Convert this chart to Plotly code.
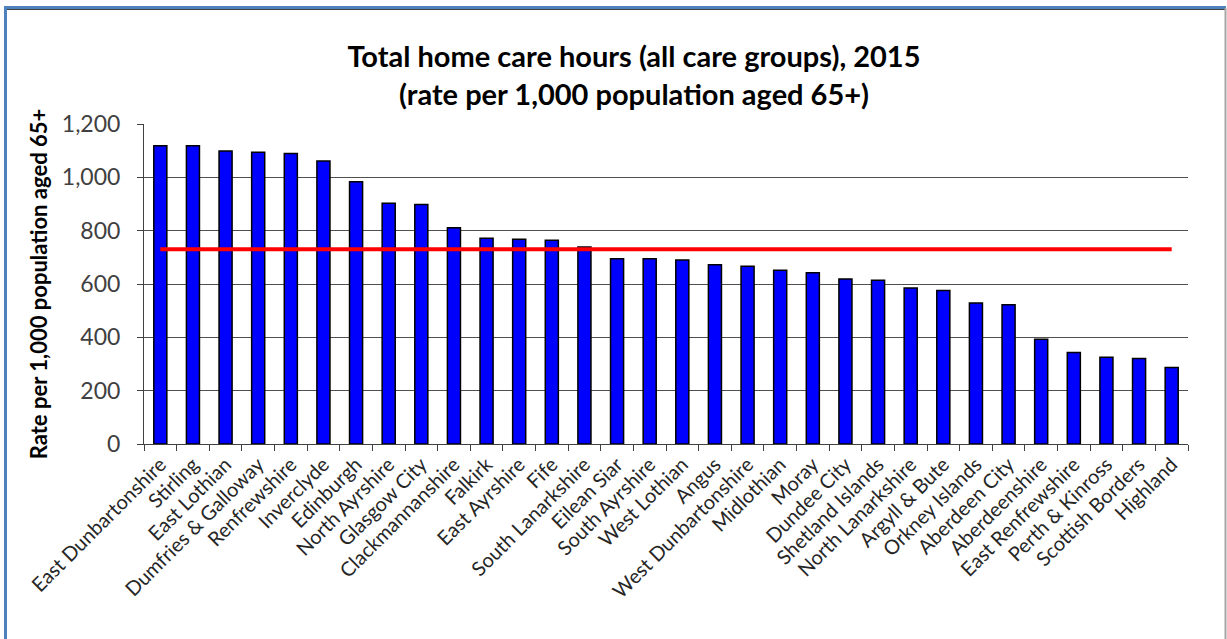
import plotly.graph_objects as go

councils = [
    "East Dunbartonshire", "Stirling", "East Lothian", "Dumfries & Galloway",
    "Renfrewshire", "Inverclyde", "Edinburgh", "North Ayrshire", "Glasgow City",
    "Clackmannanshire", "Falkirk", "East Ayrshire", "Fife", "South Lanarkshire",
    "Eilean Siar", "South Ayrshire", "West Lothian", "Angus",
    "West Dunbartonshire", "Midlothian", "Moray", "Dundee City",
    "Shetland Islands", "North Lanarkshire", "Argyll & Bute", "Orkney Islands",
    "Aberdeen City", "Aberdeenshire", "East Renfrewshire", "Perth & Kinross",
    "Scottish Borders", "Highland",
]
rates = [
    1118, 1118, 1099, 1094, 1089, 1061, 983, 903, 898, 811, 772, 768, 764, 739,
    695, 695, 690, 672, 667, 652, 642, 619, 614, 585, 576, 529, 522, 393, 343,
    325, 321, 287,
]
scotland_average = 730
y_ticks = [0, 200, 400, 600, 800, 1000, 1200]
y_tick_labels = ["0", "200", "400", "600", "800", "1,000", "1,200"]

W, H = 1227, 639
L, R, T, B = 144, 1188, 124, 444


def px(x):
    return (x - L) / (R - L)


def py(y):
    return (B - y) / (B - T)


FONT = "Lato"

fig = go.Figure()
fig.add_trace(go.Bar(
    x=councils, y=rates,
    marker=dict(color="#0000FF", line=dict(color="#000000", width=1.5)),
    showlegend=False,
))
fig.add_trace(go.Scatter(
    x=councils, y=[scotland_average] * len(councils),
    mode="lines", line=dict(color="#FF0000", width=4),
    showlegend=False,
))

shapes = [
    # outer frame
    dict(type="line", xref="paper", yref="paper", x0=px(4), x1=px(1226), y0=py(7.5), y1=py(7.5),
         line=dict(color="#4F81BD", width=3)),
    dict(type="line", xref="paper", yref="paper", x0=px(7), x1=px(1226), y0=py(9.5), y1=py(9.5),
         line=dict(color="#404040", width=1)),
    dict(type="line", xref="paper", yref="paper", x0=px(5.5), x1=px(5.5), y0=py(6), y1=py(645),
         line=dict(color="#4F81BD", width=3)),
    dict(type="line", xref="paper", yref="paper", x0=px(1225.5), x1=px(1225.5), y0=py(8), y1=py(645),
         line=dict(color="#A6A6A6", width=2)),
]

fig.update_layout(
    width=W, height=H,
    margin=dict(l=L, r=W - R, t=T, b=H - B, autoexpand=False),
    paper_bgcolor="white", plot_bgcolor="white",
    bargap=0.6,
    shapes=shapes,
    title=dict(
        text="Total home care hours (all care groups), 2015<br>(rate per 1,000 population aged 65+)",
        x=px(634), xanchor="center", xref="paper",
        y=1 - 67 / H, yanchor="middle",
        font=dict(family=FONT, size=29, color="#000000", weight="bold"),
    ),
    font=dict(family=FONT),
)
fig.update_xaxes(
    type="category",
    tickangle=-45,
    tickfont=dict(family=FONT, size=20, color="#262626"),
    showline=True, linecolor="#404040", linewidth=1,
    ticks="outside", ticklen=6, tickcolor="#404040", tickson="boundaries",
    showgrid=False,
    range=[-0.5, len(councils) - 0.5],
)
fig.update_yaxes(
    range=[0, 1200],
    tickvals=y_ticks, ticktext=y_tick_labels,
    tickfont=dict(family=FONT, size=23, color="#404040"),
    ticklabelstandoff=12,
    showline=True, linecolor="#404040", linewidth=1,
    ticks="outside", ticklen=6, tickcolor="#404040",
    showgrid=True, gridcolor="#505050", gridwidth=1,
    zeroline=False,
    title=dict(text="Rate per 1,000 population aged 65+",
               font=dict(family=FONT, size=22, color="#000000", weight="bold"),
               standoff=8),
)

fig.write_html("out.html", config={"displayModeBar": False},
               post_script="document.body.style.margin='0';")
